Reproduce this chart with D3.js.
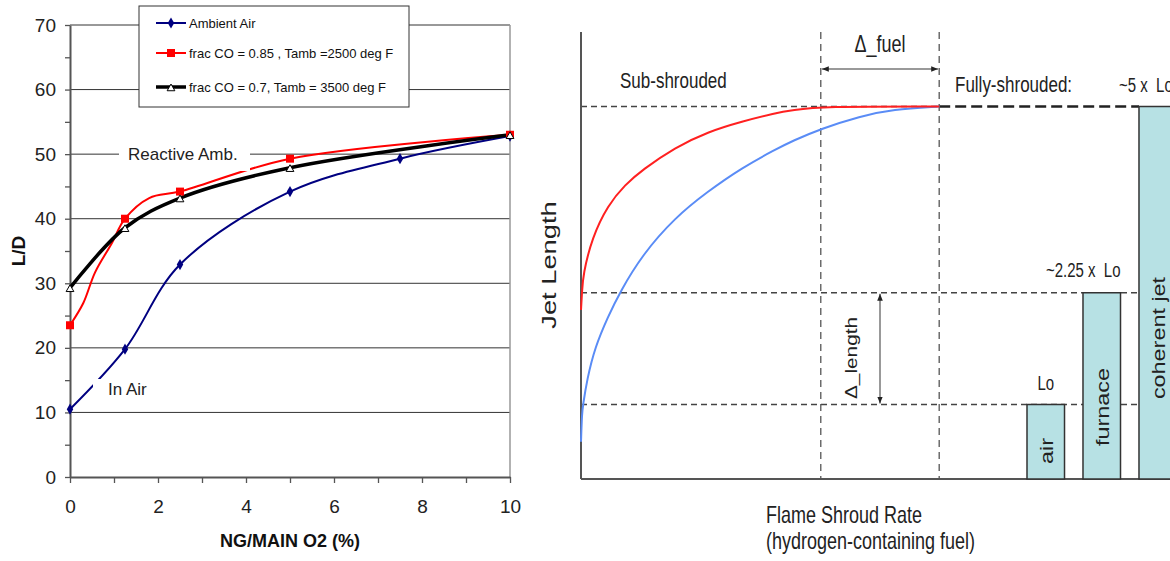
<!DOCTYPE html>
<html><head><meta charset="utf-8">
<script src="https://cdn.jsdelivr.net/npm/d3@7"></script>
<style>
body{margin:0;background:#fff}
svg{display:block}
text{font-family:"Liberation Sans",Arial,sans-serif;white-space:pre}
</style>
</head><body>
<svg id="c" width="1170" height="561"></svg>
<script>
// ---------- Left chart data ----------
const ambientX = [0, 1.25, 2.5, 5, 7.5, 10];
const ambientAir = [10.5, 19.8, 32.9, 44.2, 49.3, 52.8];
const coX = [0, 1.25, 2.5, 5, 10];
const fracCO085 = [23.5, 40.0, 44.2, 49.3, 53.0];
const fracCO07 = [29.3, 38.6, 43.2, 47.9, 53.0];
// unmarked points
const fracCO085TraceX = [0, 0.3, 0.57, 0.95, 1.25, 1.8, 2.5, 5, 10];
const fracCO085Trace = [23.5, 26.9, 31.7, 36.2, 40.0, 43.2, 44.2, 49.3, 53.0];
const seriesNames = ["Ambient Air", "frac CO = 0.85 , Tamb =2500 deg F", "frac CO = 0.7, Tamb = 3500 deg F"];
const yTicksLeft = [0, 10, 20, 30, 40, 50, 60, 70];
const xTicksLeft = [0, 2, 4, 6, 8, 10];
const leftNotes = ["Reactive Amb.", "In Air"];

// ---------- Right chart data ----------
const rateRed = [0, 0.017, 0.034, 0.185, 0.454, 0.74, 1.03, 1.58, 2.13, 2.71, 3.26, 3.56, 4.03, 6.02];
const lenRed  = [2.27, 2.51, 2.74, 3.24, 3.68, 3.95, 4.15, 4.45, 4.66, 4.80, 4.91, 4.95, 5.0, 5.0];
const rateBlue = [0, 0.017, 0.034, 0.10, 0.235, 0.454, 0.655, 1.03, 1.58, 2.13, 2.71, 3.26, 3.56, 4.03, 4.69, 5.24, 6.02];
const lenBlue  = [0.50, 0.89, 0.99, 1.33, 1.77, 2.18, 2.51, 3.01, 3.51, 3.86, 4.18, 4.42, 4.54, 4.70, 4.87, 4.96, 5.0];
const barCats = ["air", "furnace", "coherent jet"];
const barLen = [1, 2.5, 5];
const barNotes = ["Lo", "~2.25 x  Lo", "~5 x  Lo"];
const fuelBounds = [4.03, 6.02];
const rightTexts = ["Sub-shrouded", "Fully-shrouded:", "\u0394_fuel", "\u0394_length", "Jet Length", "Flame Shroud Rate", "(hydrogen-containing fuel)"];

const svg = d3.select("#c");

// ================= LEFT CHART =================
const xL = d3.scaleLinear().domain([0, 10]).range([70, 510]);
const yL = d3.scaleLinear().domain([0, 70]).range([477, 25]);
const L = svg.append("g");

L.selectAll("line.grid").data(yTicksLeft.filter(d => d > 0)).join("line")
  .attr("x1", xL(0)).attr("x2", xL(10))
  .attr("y1", d => yL(d)).attr("y2", d => yL(d))
  .attr("stroke", "#333").attr("stroke-width", 1);
L.append("line").attr("x1", xL(10)).attr("x2", xL(10)).attr("y1", yL(70)).attr("y2", yL(0))
  .attr("stroke", "#999").attr("stroke-width", 1.5);

const yAx = L.append("g").attr("transform", `translate(${xL(0)},0)`)
  .call(d3.axisLeft(yL).tickValues(d3.range(0, 75, 5)).tickSize(5).tickSizeOuter(0).tickPadding(9)
    .tickFormat(d => yTicksLeft.includes(d) ? d : ""));
const xAx = L.append("g").attr("transform", `translate(0,${yL(0)})`)
  .call(d3.axisBottom(xL).tickValues(d3.range(0, 11, 1)).tickSize(6).tickSizeOuter(0).tickPadding(17)
    .tickFormat(d => xTicksLeft.includes(d) ? d : ""));
[yAx, xAx].forEach(a => {
  a.select(".domain").attr("stroke", "#555").attr("stroke-width", 2);
  a.selectAll(".tick line").attr("stroke", "#555").attr("stroke-width", 1.3);
  a.selectAll("text").attr("font-size", 19).attr("fill", "#222")
    .attr("font-family", "'Liberation Sans',Arial,sans-serif");
});

L.append("text").attr("transform", `translate(25,251) rotate(-90)`).attr("text-anchor", "middle")
  .attr("font-size", 19).attr("font-weight", "bold").attr("fill", "#111").text("L/D");
L.append("text").attr("x", 290).attr("y", 547).attr("text-anchor", "middle")
  .attr("font-size", 18).attr("font-weight", "bold").attr("fill", "#111").text("NG/MAIN O2 (%)");

const lineL = d3.line().x(d => xL(d[0])).y(d => yL(d[1])).curve(d3.curveCatmullRom.alpha(0.5));
const sBlue = ambientX.map((x, i) => [x, ambientAir[i]]);
const sRed = coX.map((x, i) => [x, fracCO085[i]]);
const sRedTrace = fracCO085TraceX.map((x, i) => [x, fracCO085Trace[i]]);
const sBlack = coX.map((x, i) => [x, fracCO07[i]]);
const series = [
  {data: sBlue, trace: sBlue, color: "#000080", w: 2, sym: d3.symbolDiamond, size: 36, fill: "#000080", stroke: "none"},
  {data: sRed, trace: sRedTrace, color: "#ff0000", w: 2, sym: d3.symbolSquare, size: 64, fill: "#ff0000", stroke: "none"},
  {data: sBlack, trace: sBlack, color: "#000", w: 3.5, sym: d3.symbolTriangle, size: 26, fill: "#fff", stroke: "#000"}
];
series.forEach(s => {
  L.append("path").attr("d", lineL(s.trace)).attr("fill", "none")
    .attr("stroke", s.color).attr("stroke-width", s.w).attr("stroke-linejoin", "round");
});
series.forEach(s => {
  L.selectAll(null).data(s.data).join("path")
    .attr("transform", d => `translate(${xL(d[0])},${yL(d[1]) + (s.sym === d3.symbolTriangle ? 1.5 : 0)})`)
    .attr("d", d3.symbol(s.sym, s.size)).attr("fill", s.fill).attr("stroke", s.stroke).attr("stroke-width", 1);
});

L.append("rect").attr("x", 119).attr("y", 139).attr("width", 131).attr("height", 32).attr("fill", "#fff");
L.append("text").attr("x", 128).attr("y", 160).attr("font-size", 17).attr("fill", "#222").text(leftNotes[0]);
L.append("rect").attr("x", 93).attr("y", 379).attr("width", 58).attr("height", 22).attr("fill", "#fff");
L.append("text").attr("x", 108).attr("y", 395).attr("font-size", 17).attr("fill", "#222").text(leftNotes[1]);

const lg = L.append("g");
lg.append("rect").attr("x", 139).attr("y", 6).attr("width", 270).attr("height", 101)
  .attr("fill", "#fff").attr("stroke", "#333").attr("stroke-width", 1);
const legY = [23, 53, 87];
series.forEach((s, i) => {
  lg.append("line").attr("x1", 156).attr("x2", 186).attr("y1", legY[i]).attr("y2", legY[i])
    .attr("stroke", s.color).attr("stroke-width", s.w);
  lg.append("path").attr("transform", `translate(171,${legY[i] + (s.sym === d3.symbolTriangle ? 1.5 : 0)})`)
    .attr("d", d3.symbol(s.sym, s.size)).attr("fill", s.fill).attr("stroke", s.stroke).attr("stroke-width", 1);
  lg.append("text").attr("x", 189).attr("y", legY[i] + 4.5).attr("font-size", 13).attr("fill", "#111")
    .text(seriesNames[i]);
});

// ================= RIGHT CHART =================
const xR = d3.scaleLinear().domain([0, 10]).range([581, 1176]);
const yR = d3.scaleLinear().domain([0, 6]).range([479, 32]);
const R = svg.append("g");
const SY = 1.3;

function rtext(x, y, str, size, opts = {}) {
  const rot = opts.rot || 0;
  return R.append("text")
    .attr("transform", `translate(${x},${y}) scale(1,${SY})` + (rot ? ` rotate(${rot})` : ""))
    .attr("text-anchor", opts.anchor || "start")
    .attr("dy", opts.dy || 0)
    .attr("font-size", size).attr("fill", opts.fill || "#222").text(str);
}

const xBar = d3.scaleBand().domain(barCats).range([1027, 1027 + 2 * 56 + 37.5]).paddingInner(0.33).paddingOuter(0);
const barLeftMost = xBar("coherent jet");

R.append("line").attr("x1", xR(0)).attr("x2", xR(fuelBounds[1])).attr("y1", yR(5)).attr("y2", yR(5))
  .attr("stroke", "#444").attr("stroke-width", 1.3).attr("stroke-dasharray", "6,4");
R.append("line").attr("x1", xR(fuelBounds[1])).attr("x2", barLeftMost).attr("y1", yR(5)).attr("y2", yR(5))
  .attr("stroke", "#222").attr("stroke-width", 2.6).attr("stroke-dasharray", "11,5");
[2.5, 1].forEach(v => {
  R.append("line").attr("x1", xR(0)).attr("x2", barLeftMost).attr("y1", yR(v)).attr("y2", yR(v))
    .attr("stroke", "#444").attr("stroke-width", 1.3).attr("stroke-dasharray", "6,4");
});
fuelBounds.forEach(v => {
  R.append("line").attr("x1", xR(v)).attr("x2", xR(v)).attr("y1", yR(6)).attr("y2", yR(0))
    .attr("stroke", "#555").attr("stroke-width", 1.3).attr("stroke-dasharray", "7,5");
});

R.append("line").attr("x1", xR(0)).attr("x2", xR(0)).attr("y1", yR(6)).attr("y2", yR(0))
  .attr("stroke", "#555").attr("stroke-width", 2);
R.append("line").attr("x1", xR(0)).attr("x2", 1170).attr("y1", yR(0)).attr("y2", yR(0))
  .attr("stroke", "#555").attr("stroke-width", 2);

const lineR = d3.line().x(d => xR(d[0])).y(d => yR(d[1])).curve(d3.curveBasis);
R.append("path").attr("d", lineR(rateBlue.map((x, i) => [x, lenBlue[i]])))
  .attr("fill", "none").attr("stroke", "#5a8cf6").attr("stroke-width", 2);
R.append("path").attr("d", lineR(rateRed.map((x, i) => [x, lenRed[i]])))
  .attr("fill", "none").attr("stroke", "#ff2020").attr("stroke-width", 2);

R.selectAll("rect.bar").data(barCats).join("rect")
  .attr("x", d => xBar(d)).attr("width", xBar.bandwidth())
  .attr("y", (d, i) => yR(barLen[i])).attr("height", (d, i) => yR(0) - yR(barLen[i]))
  .attr("fill", "#b7e1e4").attr("stroke", "#333").attr("stroke-width", 1.5);
const labelRise = {"air": 28, "furnace": 72, "coherent jet": 141};
barCats.forEach(c => {
  rtext(xBar(c) + xBar.bandwidth() / 2 + 1, yR(0) - labelRise[c], c, 18, {rot: -90, anchor: "middle", dy: "0.36em", fill: "#222"});
});
rtext(xBar("air") + xBar.bandwidth() / 2, yR(barLen[0]) - 15, barNotes[0], 15, {anchor: "middle"});
rtext(xBar("furnace") + xBar.bandwidth(), yR(barLen[1]) - 16, barNotes[1], 15, {anchor: "end"});
rtext(1119, yR(barLen[2]) - 15, barNotes[2], 15);

const defs = svg.append("defs");
["s", "e"].forEach(k => {
  defs.append("marker").attr("id", "ah" + k).attr("viewBox", "0 0 10 10").attr("refX", 10).attr("refY", 5)
    .attr("markerWidth", 7).attr("markerHeight", 7).attr("orient", k === "s" ? "auto-start-reverse" : "auto")
    .attr("markerUnits", "userSpaceOnUse")
    .append("path").attr("d", "M0,1 L10,5 L0,9 Z").attr("fill", "#222");
});
R.append("line").attr("x1", xR(fuelBounds[0]) + 1).attr("x2", xR(fuelBounds[1]) - 1).attr("y1", 69).attr("y2", 69)
  .attr("stroke", "#999").attr("stroke-width", 2)
  .attr("marker-start", "url(#ahs)").attr("marker-end", "url(#ahe)");
R.append("line").attr("x1", 880).attr("x2", 880).attr("y1", yR(2.5) + 1).attr("y2", yR(1) - 1)
  .attr("stroke", "#999").attr("stroke-width", 2)
  .attr("marker-start", "url(#ahs)").attr("marker-end", "url(#ahe)");

rtext(620, 88, rightTexts[0], 17);
rtext(955, 92, rightTexts[1], 17);
rtext((xR(fuelBounds[0]) + xR(fuelBounds[1])) / 2, 52, rightTexts[2], 18, {anchor: "middle"});
rtext(851, 358, rightTexts[3], 16, {rot: -90, anchor: "middle", dy: "0.36em"});
rtext(548, 265, rightTexts[4], 21, {rot: -90, anchor: "middle", dy: "0.36em"});
rtext(766, 523, rightTexts[5], 18);
rtext(766, 549, rightTexts[6], 18);
</script>
</body></html>
